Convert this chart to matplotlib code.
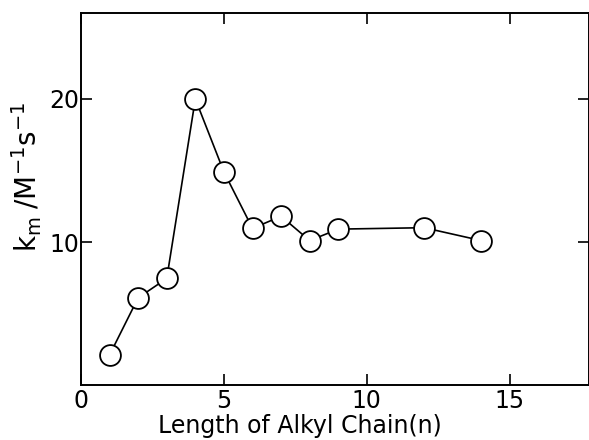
import matplotlib.pyplot as plt

# Longueur de chaîne alkyle vs k_m
chain_n = [1, 2, 3, 4, 5, 6, 7, 8, 9, 12, 14]
k_m = [2.1, 6.1, 7.45, 20.0, 14.9, 10.95, 11.8, 10.1, 10.9, 11.0, 10.1]

xticks = [0, 5, 10, 15]
yticks = [10, 20]

plt.rcParams.update({
    'font.size': 17,
    'font.family': 'DejaVu Sans',
    'mathtext.default': 'regular',
})

fig = plt.figure(figsize=(5.89, 4.4), dpi=100)
ax = fig.add_axes([0.1375, 0.125, 0.8625, 0.845])

ax.plot(chain_n, k_m, color='black', lw=1.2, marker='o', ms=15,
        mfc='white', mec='black', mew=1.3, zorder=3)

ax.set_xlim(0, 17.77)
ax.set_ylim(0, 26)
ax.set_xticks(xticks)
ax.set_yticks(yticks)
ax.tick_params(direction='in', length=8, width=1.2, top=True, right=True,
               labelsize=17)
ax.tick_params(axis='x', pad=3)
ax.tick_params(axis='y', pad=1)
for s in ax.spines.values():
    s.set_linewidth(1.4)

ax.set_xlabel('Length of Alkyl Chain(n)', fontsize=17)
ax.xaxis.set_label_coords(0.43, -0.078)
ax.set_ylabel(r'$k_m\;/M^{-1}s^{-1}$', fontsize=20)
ax.yaxis.set_label_coords(-0.072, 0.56)

fig.savefig('out.png', dpi=100)
